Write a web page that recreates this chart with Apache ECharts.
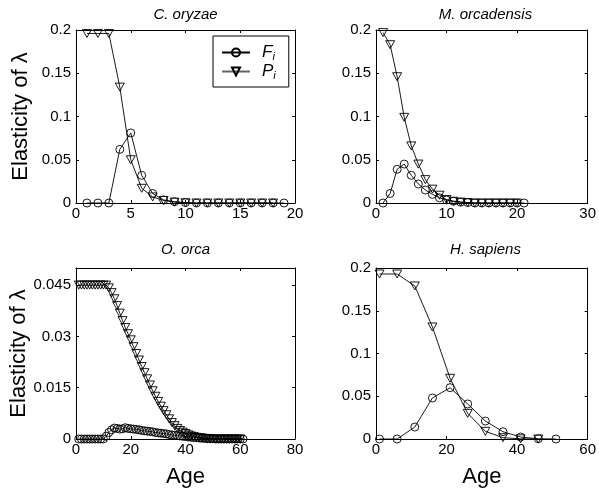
<!DOCTYPE html>
<html><head><meta charset="utf-8">
<script src="https://cdn.jsdelivr.net/npm/echarts@6/dist/echarts.min.js"></script>
<style>html,body{margin:0;padding:0;background:#fff}#c{width:599px;height:497px}</style>
</head><body><div id="c"></div>
<script>
const FONT = '"Liberation Sans", Arial, Helvetica, sans-serif';

const titles = ['C. oryzae', 'M. orcadensis', 'O. orca', 'H. sapiens'];
const yLabel = 'Elasticity of λ';
const xLabel = 'Age';

// C. oryzae
const ageC_F = [1,2,3,4,5,6,7,8,9,10,11,12,13,14,15,16,17,18,19];
const valC_F = [0,0,0,0.062,0.081,0.032,0.011,0.0035,0.0015,0.0005,0,0,0,0,0,0,0,0,0];
const ageC_P = [1,2,3,4,5,6,7,8,9,10,11,12,13,14,15,16,17,18];
const valC_P = [0.196,0.196,0.196,0.134,0.050,0.017,0.007,0.003,0.001,0.0003,0,0,0,0,0,0,0,0];

// M. orcadensis
const ageM_F = [1,2,3,4,5,6,7,8,9,10,11,12,13,14,15,16,17,18,19,20,21];
const valM_F = [0,0.011,0.039,0.045,0.032,0.022,0.015,0.010,0.006,0.0035,0.002,0.001,0.0005,0,0,0,0,0,0,0,0];
const ageM_P = [1,2,3,4,5,6,7,8,9,10,11,12,13,14,15,16,17,18,19,20];
const valM_P = [0.197,0.183,0.146,0.099,0.066,0.045,0.027,0.016,0.009,0.004,0.002,0.001,0.0005,0,0,0,0,0,0,0];

// O. orca
const ageO_F = [1,2,3,4,5,6,7,8,9,10,11,12,13,14,15,16,17,18,19,20,21,22,23,24,25,26,27,28,29,30,31,32,33,34,35,36,37,38,39,40,41,42,43,44,45,46,47,48,49,50,51,52,53,54,55,56,57,58,59,60,61];
const valO_F = [0,0,0,0,0,0,0,0,0,0,
  0.0008,0.0019,0.0027,0.0032,0.0031,0.0029,0.0030,0.0033,0.0031,0.0030,
  0.0029,0.0028,0.0027,0.0025,0.0024,0.0023,0.0022,0.0021,0.0019,0.0018,
  0.0017,0.0016,0.0015,0.0013,0.0012,0.0011,0.0010,0.0009,0.0008,0.0007,
  0.0006,0.0005,0.0004,0.0004,0.0003,0.0002,0.0002,0.0001,0.0001,0.0001,
  0,0,0,0,0,0,0,0,0,0,0];
const ageO_P = [1,2,3,4,5,6,7,8,9,10,11,12,13,14,15,16,17,18,19,20,21,22,23,24,25,26,27,28,29,30,31,32,33,34,35,36,37,38,39,40,41,42,43,44,45,46,47,48,49,50,51,52,53,54,55,56,57,58,59,60];
const valO_P = [0.045,0.045,0.045,0.045,0.045,0.045,0.045,0.045,0.045,0.045,
  0.0450,0.0442,0.0428,0.0410,0.0390,0.0368,0.0346,0.0326,0.0308,0.0290,
  0.0270,0.0250,0.0231,0.0212,0.0194,0.0176,0.0158,0.0141,0.0125,0.0110,
  0.0096,0.0083,0.0071,0.0059,0.0048,0.0039,0.0031,0.0025,0.0020,0.0016,
  0.0012,0.0009,0.0007,0.0005,0.0004,0.0003,0.0002,0.0001,0.0001,0,
  0,0,0,0,0,0,0,0,0,0];

// H. sapiens
const ageH_F = [1,6,11,16,21,26,31,36,41,46,51];
const valH_F = [0,0,0.014,0.048,0.060,0.041,0.021,0.0085,0.0023,0.0003,0];
const ageH_P = [1,6,11,16,21,26,31,36,41,46];
const valH_P = [0.193,0.193,0.179,0.131,0.071,0.030,0.009,0.0015,0.0002,0];

const xMax = [20, 30, 80, 60];
const xStep = [5, 10, 20, 20];
const yMax = [0.2, 0.2, 0.05, 0.2];
const yStep = [0.05, 0.05, 0.015, 0.05];

const panels = [
  [ageC_F, valC_F, ageC_P, valC_P],
  [ageM_F, valM_F, ageM_P, valM_P],
  [ageO_F, valO_F, ageO_P, valO_P],
  [ageH_F, valH_F, ageH_P, valH_P]
];

const zip = (a, b) => a.map((v, i) => [v, b[i]]);

const grids = [
  {left: 76, top: 30, width: 219, height: 173},
  {left: 376, top: 30, width: 219, height: 173},
  {left: 76, top: 268, width: 219, height: 171},
  {left: 376, top: 268, width: 219, height: 171}
];

const xAxes = [], yAxes = [], series = [], titleArr = [];
const lineCol = '#000';
grids.forEach((g, i) => {
  const common = {
    gridIndex: i, type: 'value', min: 0, splitLine: {show: false},
    axisLine: {show: true, onZero: false, lineStyle: {color: lineCol, width: 1}},
    axisTick: {show: true, inside: true, length: 3, lineStyle: {color: lineCol}}
  };
  xAxes.push(Object.assign({}, common, {
    position: 'bottom', max: xMax[i], interval: xStep[i],
    axisLabel: {color: '#000', fontFamily: FONT, fontSize: 15, margin: 3},
    name: i >= 2 ? xLabel : '', nameLocation: 'middle', nameGap: 27,
    nameTextStyle: {color: '#000', fontFamily: FONT, fontSize: 22}
  }));
  xAxes.push(Object.assign({}, common, {
    position: 'top', max: xMax[i], interval: xStep[i], axisLabel: {show: false}
  }));
  yAxes.push(Object.assign({}, common, {
    position: 'left', max: yMax[i], interval: yStep[i],
    axisLabel: {color: '#000', fontFamily: FONT, fontSize: 15, margin: 5, showMaxLabel: i !== 2},
    name: (i % 2 === 0) ? yLabel : '', nameLocation: 'middle', nameGap: 44,
    nameTextStyle: {color: '#000', fontFamily: FONT, fontSize: 22}
  }));
  yAxes.push(Object.assign({}, common, {
    position: 'right', max: yMax[i], interval: yStep[i], axisLabel: {show: false}
  }));
  titleArr.push({
    text: titles[i], left: g.left + g.width / 2, top: i < 2 ? 7 : 242, textAlign: 'center', padding: 0,
    textStyle: {fontFamily: FONT, fontSize: 15, fontStyle: 'italic', fontWeight: 'normal', color: '#000'}
  });
  const p = panels[i];
  series.push({
    name: 'F', type: 'line', xAxisIndex: 2 * i, yAxisIndex: 2 * i,
    data: zip(p[0], p[1]), symbol: 'circle', symbolSize: 8, showAllSymbol: true,
    lineStyle: {color: lineCol, width: 0.9},
    itemStyle: {color: 'rgba(255,255,255,0)', borderColor: lineCol, borderWidth: 0.9},
    emphasis: {disabled: true}, z: 3
  });
  series.push({
    name: 'P', type: 'line', xAxisIndex: 2 * i, yAxisIndex: 2 * i,
    data: zip(p[2], p[3]), symbol: 'triangle', symbolRotate: 180, symbolSize: [9, 8], showAllSymbol: true,
    lineStyle: {color: lineCol, width: 0.9},
    itemStyle: {color: 'rgba(255,255,255,0)', borderColor: lineCol, borderWidth: 0.9},
    emphasis: {disabled: true}, z: 2
  });
});

const chart = echarts.init(document.getElementById('c'), null, {renderer: 'canvas'});
chart.setOption({
  animation: false,
  backgroundColor: '#fff',
  title: titleArr,
  grid: grids,
  xAxis: xAxes,
  yAxis: yAxes,
  legend: {
    left: 213, top: 36, orient: 'vertical', selectedMode: false,
    borderColor: '#000', borderWidth: 1, backgroundColor: '#fff',
    padding: [8, 13, 6, 8], itemWidth: 28, itemHeight: 10, itemGap: 1,
    data: ['F', {name: 'P', lineStyle: {color: '#666'}}],
    formatter: n => '{a|' + n + '}{b|i}',
    textStyle: {
      fontFamily: FONT, color: '#000',
      rich: {
        a: {fontFamily: FONT, fontSize: 17, fontStyle: 'italic', color: '#000', padding: [0, 0, 0, 7], lineHeight: 19},
        b: {fontFamily: FONT, fontSize: 11, fontStyle: 'italic', color: '#000', verticalAlign: 'bottom', lineHeight: 11}
      }
    }
  },
  series: series
});
</script></body></html>
